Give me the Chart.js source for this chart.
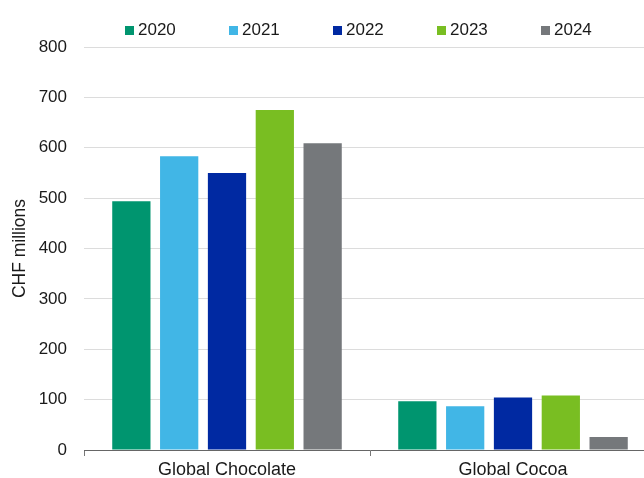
<!DOCTYPE html>
<html>
<head>
<meta charset="utf-8">
<script src="https://cdn.jsdelivr.net/npm/chart.js@4/dist/chart.umd.min.js"></script>
<style>
  html, body { margin: 0; padding: 0; background: #fff; overflow: hidden; }
  #wrap { position: relative; width: 644px; height: 478px; overflow: hidden; }
  #chart { position: absolute; left: 0; top: 0; }
  #legend { position: absolute; left: 125px; top: 20px; display: flex;
            font-family: "Liberation Sans", Arial, sans-serif; font-size: 17px; color: #1a1a1a; }
  #legend .item { width: 104px; display: flex; align-items: center; height: 20px; }
  #legend .sw { width: 9px; height: 9px; margin-right: 4px; }
</style>
</head>
<body>
<div id="wrap">
  <canvas id="chart" width="656" height="478"></canvas>
  <div id="legend"></div>
</div>
<script>
//chart data
const categories = ['Global Chocolate', 'Global Cocoa'];
const years = ['2020', '2021', '2022', '2023', '2024'];
const colors = ['#00956f', '#41b6e6', '#0029a2', '#79be22', '#75787b'];
const values2020 = [494, 97];
const values2021 = [583, 87];
const values2022 = [550, 104];
const values2023 = [675, 108];
const values2024 = [609, 26];
const yTicks = [0, 100, 200, 300, 400, 500, 600, 700, 800];

const seriesValues = [values2020, values2021, values2022, values2023, values2024];

//html legend, one item per year
const legendEl = document.getElementById('legend');
years.forEach((y, i) => {
    const item = document.createElement('div');
    item.className = 'item';
    item.innerHTML = '<span class="sw" style="background:' + colors[i] + '"></span><span>' + y + '</span>';
    legendEl.appendChild(item);
});

const font = "'Liberation Sans', Arial, sans-serif";

new Chart(document.getElementById('chart'), {
    type: 'bar',
    data: {
        labels: categories,
        datasets: years.map((y, i) => ({
            label: y,
            data: seriesValues[i],
            backgroundColor: colors[i],
            categoryPercentage: 0.836,
            barPercentage: 0.8
        }))
    },
    options: {
        responsive: false,
        animation: false,
        devicePixelRatio: 1,
        layout: { padding: { top: 47, right: 0, left: 0, bottom: 0 } },
        plugins: {
            legend: { display: false },
            tooltip: { enabled: false }
        },
        scales: {
            x: {
                grid: {
                    offset: true,
                    drawOnChartArea: false,
                    drawTicks: true,
                    tickLength: 6,
                    color: '#777'
                },
                border: { display: true, color: '#666', width: 1 },
                ticks: {
                    font: { family: font, size: 18 },
                    color: '#1a1a1a',
                    padding: 3,
                    maxRotation: 0
                },
                afterFit: s => { s.height = 28; }
            },
            y: {
                min: 0,
                max: 800,
                afterBuildTicks: s => { s.ticks = yTicks.map(v => ({ value: v })); },
                grid: { color: '#dcdcdc', drawTicks: false },
                border: { display: false },
                ticks: {
                    font: { family: font, size: 17 },
                    color: '#1a1a1a',
                    padding: 17
                },
                title: {
                    display: true,
                    text: 'CHF millions',
                    font: { family: font, size: 17.5 },
                    color: '#1a1a1a',
                    padding: { top: 10, bottom: 0 }
                },
                afterFit: s => { s.width = 84; }
            }
        }
    }
});
</script>
</body>
</html>
